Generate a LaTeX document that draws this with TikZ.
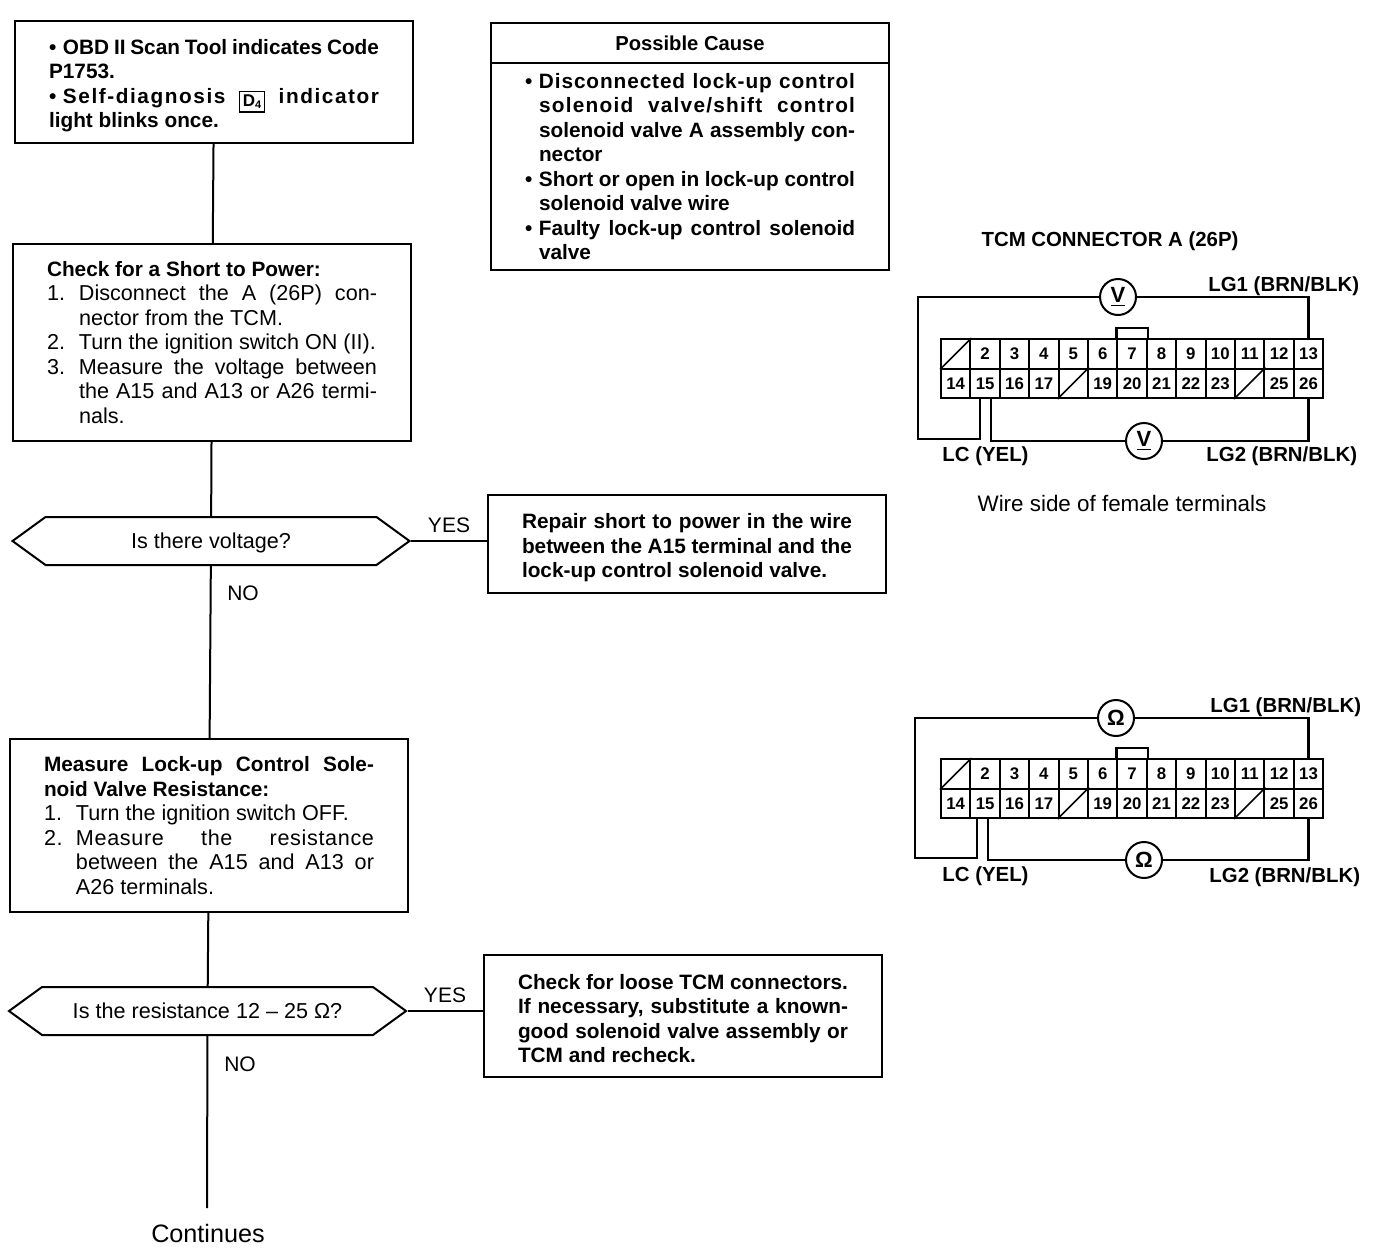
\documentclass[tikz,border=0pt]{standalone}
\usepackage{fontspec}
\setmainfont{Liberation Sans}
\usetikzlibrary{
	positioning
	, shapes.symbols
}
\setlength{\fboxsep}{1.3pt}
\setlength{\fboxrule}{0.8pt}
\newcommand{\fullline}[1]{\makebox[165pt][s]{#1}}
\newcommand{\spreadline}[2]{\makebox[165pt][s]{\addfontfeature{LetterSpace=#1}#2}}
\newcommand{\bul}{\makebox[7pt][l]{•}}
\newcommand{\num}[1]{\makebox[16pt][l]{#1}}
\newcommand{\heavy}{\fontsize{10.4}{12.25}\selectfont\bfseries}
\newcommand{\dfour}{\raisebox{-1.5pt}{\fbox{\fontsize{8.5}{8.5}\selectfont D\raisebox{-1pt}{\fontsize{5.5}{5.5}\selectfont 4}}}}

\begin{document}
\begin{tikzpicture}[x=0.5pt, y=-0.5pt,
	flowbox/.style={draw=black, line width=1pt, text width=165pt, inner xsep=17pt, inner ysep=0pt, align=flush left, font=\fontsize{10.8}{12.25}\selectfont},
	boldbox/.style={flowbox, font=\heavy},
	question/.style={draw=black, line width=1pt, signal, signal to=east and west, signal pointer angle=72, minimum width=198.5pt, minimum height=24pt, inner sep=0pt, text height=7.5pt, text depth=0pt, font=\fontsize{10.8}{12}\selectfont},
	link/.style={line width=1pt},
	wire/.style={line width=1.1pt},
	answer/.style={font=\fontsize{10.5}{12}\selectfont, inner sep=0pt},
	pinbox/.style={draw=black, line width=1pt, minimum width=14.7pt, minimum height=14.75pt, inner sep=0pt, text height=5.8pt, text depth=0pt, font=\fontsize{8.4}{9}\selectfont\bfseries},
	meter/.style={draw=black, line width=1pt, fill=white, circle, minimum size=18pt, inner sep=0pt, font=\fontsize{11}{12}\selectfont\bfseries},
	wirelabel/.style={inner sep=0pt, font=\fontsize{10.2}{12}\selectfont\bfseries}]

	\useasboundingbox (0,0) rectangle (1376,1248);

	%% Left column
	\node[boldbox, minimum height=61pt] (symptom) at (214,82) {%
		\rule{0pt}{11.4pt}\fullline{\bul OBD II Scan Tool indicates Code}\\
		P1753.\\
		\spreadline{7.5}{\bul Self-diagnosis \dfour{} indicator}\\
		light blinks once.};
	\node[flowbox, minimum height=98.5pt] (shortcheck) at (212,342.5) {%
		{\heavy Check for a Short to Power:}\\
		\fullline{\num{1.}Disconnect the A (26P) con-}\\
		\hspace*{16pt}nector from the TCM.\\
		\num{2.}Turn the ignition switch ON (II).\\
		\fullline{\num{3.}Measure the voltage between}\\
		\fullline{\hspace*{16pt}the A15 and A13 or A26 termi-}\\
		\hspace*{16pt}nals.};
	\node[question] (voltage) at (211,541) {Is there voltage?};
	\node[flowbox, minimum height=86.5pt] (rescheck) at (209,825.5) {%
		\fullline{\heavy Measure Lock-up Control Sole-}\\
		{\heavy noid Valve Resistance:}\\
		\num{1.}Turn the ignition switch OFF.\\
		\spreadline{3}{\num{2.}Measure the resistance}\\
		\fullline{\hspace*{16pt}between the A15 and A13 or}\\
		\hspace*{16pt}A26 terminals.};
	\node[question] (resistance) at (207.5,1011) {Is the resistance 12 -- 25 Ω?};
	\node[inner sep=0pt, font=\fontsize{12.6}{14}\selectfont] (continues) at (208,1233) {Continues};
	\coordinate (flowend) at (207,1208);

	%% Middle column
	\node[draw=black, line width=1pt, minimum width=199pt, minimum height=20pt, inner sep=0pt, font=\fontsize{10.1}{12}\selectfont\bfseries] (causehead) at (690,43) {Possible Cause};
	\node[boldbox, minimum height=103.5pt] (causebody) at (690,166.5) {%
		\spreadline{4.3}{\bul Disconnected lock-up control}\\
		\spreadline{6}{\hspace*{7pt}solenoid valve/shift control}\\
		\fullline{\hspace*{7pt}solenoid valve A assembly con-}\\
		\hspace*{7pt}nector\\
		\fullline{\bul Short or open in lock-up control}\\
		\hspace*{7pt}solenoid valve wire\\
		\fullline{\bul Faulty lock-up control solenoid}\\
		\hspace*{7pt}valve};
	\node[boldbox, minimum height=49pt] (repair) at (687,544) {%
		\rule{0pt}{11.4pt}\fullline{Repair short to power in the wire}\\
		\fullline{between the A15 terminal and the}\\
		lock-up control solenoid valve.};
	\node[boldbox, minimum height=61pt] (loose) at (683,1016) {%
		\rule{0pt}{10pt}Check for loose TCM connectors.\\
		\fullline{If necessary, substitute a known-}\\
		\fullline{good solenoid valve assembly or}\\
		TCM and recheck.};

	\node[answer] (yesa) at (449,525) {YES};
	\node[answer] (noa) at (243,593) {NO};
	\node[answer] (yesb) at (445,995) {YES};
	\node[answer] (nob) at (240,1064) {NO};

	%% Flow lines
	\draw[link] (symptom) -- (shortcheck);
	\draw[link] (shortcheck) -- (voltage);
	\draw[link] (voltage) -- (rescheck);
	\draw[link] (rescheck) -- (resistance);
	\draw[link] (resistance) -- (flowend);
	\draw[link] (voltage.east) -- (voltage.east -| repair.west);
	\draw[link] (resistance.east) -- (resistance.east -| loose.west);

	%% Connector blocks
	\foreach \conn/\ytop in {a/339, b/759} {
		\foreach \i in {1,...,13} {
			\node[pinbox] (\conn\i) at ({941+(\i-.5)*29.4}, \ytop+14.75) {\ifnum\i=1 \else\i\fi};
		}
		\foreach \i in {14,...,26} {
			\node[pinbox] (\conn\i) at ({941+(\i-13.5)*29.4}, \ytop+44.25) {\ifnum\i=18 \else\ifnum\i=24 \else\i\fi\fi};
		}
		\foreach \s in {1,18,24} {
			\draw[line width=.8pt] (\conn\s.south west) -- (\conn\s.north east);
		}
		\draw[wire] (\conn7.north west) |- ([yshift=5pt]\conn7.north) -| (\conn7.north east);
	}

	%% Voltage wiring
	\node[wirelabel] (titlea) at (1110,241) {TCM CONNECTOR A (26P)};
	\node[meter] (vtop) at (1118,297) {\underline{V}};
	\node[meter] (vbottom) at (1144,441) {\underline{V}};
	\coordinate (cornera) at (918,439);
	\draw[wire] (a13.north) |- (vtop.east);
	\draw[wire] (a26.south) |- (vbottom.east);
	\draw[wire] ([xshift=-2.5pt]a15.south) |- (cornera) |- (vtop.west);
	\draw[wire] ([xshift=3pt]a15.south) |- (vbottom.west);
	\node[wirelabel, anchor=west] (lgonea) at (1208,286) {LG1 (BRN/BLK)};
	\node[wirelabel, anchor=west] (lgtwoa) at (1206,456) {LG2 (BRN/BLK)};
	\node[wirelabel, anchor=west] (lca) at (942,456) {LC (YEL)};
	\node[inner sep=0pt, font=\fontsize{11.2}{13}\selectfont] (wireside) at (1122,503) {Wire side of female terminals};

	%% Resistance wiring
	\node[meter] (otop) at (1116,718) {Ω};
	\node[meter] (obottom) at (1144,860) {Ω};
	\coordinate (cornerb) at (915,858);
	\draw[wire] (b13.north) |- (otop.east);
	\draw[wire] (b26.south) |- (obottom.east);
	\draw[wire] ([xshift=-4pt]b15.south) |- (cornerb) |- (otop.west);
	\draw[wire] ([xshift=1.5pt]b15.south) |- (obottom.west);
	\node[wirelabel, anchor=west] (lgoneb) at (1210,707) {LG1 (BRN/BLK)};
	\node[wirelabel, anchor=west] (lgtwob) at (1209,877) {LG2 (BRN/BLK)};
	\node[wirelabel, anchor=west] (lcb) at (942,876) {LC (YEL)};
\end{tikzpicture}
\end{document}
